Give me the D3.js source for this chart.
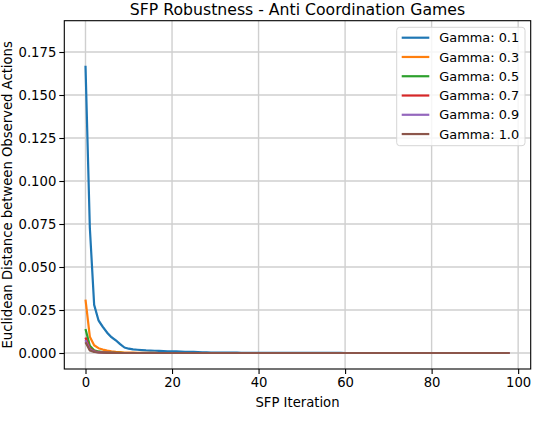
<!DOCTYPE html>
<html>
<head>
<meta charset="utf-8">
<script src="https://cdn.jsdelivr.net/npm/d3@7"></script>
<style>
  html, body { margin: 0; padding: 0; background: #fff; }
  svg { display: block; font-family: "DejaVu Sans", sans-serif; }
</style>
</head>
<body>
<svg id="chart" width="534" height="442"></svg>
<script>
// ---------------- data ----------------
const title = "SFP Robustness - Anti Coordination Games";
const xLabel = "SFP Iteration";
const yLabel = "Euclidean Distance between Observed Actions";
const seriesNames = ["Gamma: 0.1", "Gamma: 0.3", "Gamma: 0.5", "Gamma: 0.7", "Gamma: 0.9", "Gamma: 1.0"];
const seriesColors = ["#1f77b4", "#ff7f0e", "#2ca02c", "#d62728", "#9467bd", "#8c564b"];
const xTicks = [0, 20, 40, 60, 80, 100];
const yTicks = [0, 0.025, 0.05, 0.075, 0.1, 0.125, 0.15, 0.175];

const gamma01 = [
  0.167, 0.073, 0.028, 0.019, 0.0152, 0.0118, 0.0092, 0.0074, 0.0052, 0.0032,
  0.0025, 0.0021, 0.0019, 0.0017, 0.0015, 0.0014, 0.0013, 0.0012, 0.0011, 0.001,
  0.001, 0.0009, 0.0008, 0.0007, 0.0007, 0.0006, 0.0005, 0.0004, 0.0004, 0.0003,
  0.0003, 0.0002, 0.0002, 0.0002, 0.0002, 0.0002, 0.0001, 0.0001, 0.0001, 0.0001,
  0.0001, 0.0001, 0.0001, 0.0001, 0.0001, 0.0001, 0.0001, 0.0001, 0.0001, 0.0001,
  0.0001, 0.0001, 0.0001, 0.0001, 0.0001, 0.0001, 0.0001, 0.0001, 0.0001, 0.0001,
  0, 0, 0, 0, 0, 0, 0, 0, 0, 0,
  0, 0, 0, 0, 0, 0, 0, 0, 0, 0,
  0, 0, 0, 0, 0, 0, 0, 0, 0, 0,
  0, 0, 0, 0, 0, 0, 0, 0, 0
];
const gamma01Err = [
  0.0006, 0.0012, 0.0014, 0.0012, 0.0011, 0.001, 0.0009, 0.0008, 0.0007, 0.0005,
  0.0004, 0.0003, 0.0003, 0.0002, 0.0002, 0.0002, 0.0001, 0.0001, 0.0001, 0.0001
];
const gamma03 = [
  0.031, 0.0095, 0.0045, 0.0028, 0.002, 0.0014, 0.001, 0.0007, 0.0005, 0.0003,
  0.0002, 0.0002, 0.0001, 0.0001, 0.0001, 0.0001, 0.0001, 0, 0, 0,
  0, 0, 0, 0, 0, 0, 0, 0, 0, 0,
  0, 0, 0, 0, 0, 0, 0, 0, 0, 0,
  0, 0, 0, 0, 0, 0, 0, 0, 0, 0,
  0, 0, 0, 0, 0, 0, 0, 0, 0, 0,
  0, 0, 0, 0, 0, 0, 0, 0, 0, 0,
  0, 0, 0, 0, 0, 0, 0, 0, 0, 0,
  0, 0, 0, 0, 0, 0, 0, 0, 0, 0,
  0, 0, 0, 0, 0, 0, 0, 0, 0
];
const gamma05 = [
  0.014, 0.0042, 0.0016, 0.0009, 0.0005, 0.0003, 0.0002, 0.0001, 0.0001, 0,
  0, 0, 0, 0, 0, 0, 0, 0, 0, 0,
  0, 0, 0, 0, 0, 0, 0, 0, 0, 0,
  0, 0, 0, 0, 0, 0, 0, 0, 0, 0,
  0, 0, 0, 0, 0, 0, 0, 0, 0, 0,
  0, 0, 0, 0, 0, 0, 0, 0, 0, 0,
  0, 0, 0, 0, 0, 0, 0, 0, 0, 0,
  0, 0, 0, 0, 0, 0, 0, 0, 0, 0,
  0, 0, 0, 0, 0, 0, 0, 0, 0, 0,
  0, 0, 0, 0, 0, 0, 0, 0, 0
];
const gamma07 = [
  0.009, 0.0026, 0.001, 0.0005, 0.0003, 0.0002, 0.0001, 0.0001, 0, 0,
  0, 0, 0, 0, 0, 0, 0, 0, 0, 0,
  0, 0, 0, 0, 0, 0, 0, 0, 0, 0,
  0, 0, 0, 0, 0, 0, 0, 0, 0, 0,
  0, 0, 0, 0, 0, 0, 0, 0, 0, 0,
  0, 0, 0, 0, 0, 0, 0, 0, 0, 0,
  0, 0, 0, 0, 0, 0, 0, 0, 0, 0,
  0, 0, 0, 0, 0, 0, 0, 0, 0, 0,
  0, 0, 0, 0, 0, 0, 0, 0, 0, 0,
  0, 0, 0, 0, 0, 0, 0, 0, 0
];
const gamma09 = [
  0.0075, 0.002, 0.0008, 0.0004, 0.0002, 0.0001, 0.0001, 0, 0, 0,
  0, 0, 0, 0, 0, 0, 0, 0, 0, 0,
  0, 0, 0, 0, 0, 0, 0, 0, 0, 0,
  0, 0, 0, 0, 0, 0, 0, 0, 0, 0,
  0, 0, 0, 0, 0, 0, 0, 0, 0, 0,
  0, 0, 0, 0, 0, 0, 0, 0, 0, 0,
  0, 0, 0, 0, 0, 0, 0, 0, 0, 0,
  0, 0, 0, 0, 0, 0, 0, 0, 0, 0,
  0, 0, 0, 0, 0, 0, 0, 0, 0, 0,
  0, 0, 0, 0, 0, 0, 0, 0, 0
];
const gamma10 = [
  0.0062, 0.0015, 0.0006, 0.0003, 0.0002, 0.0001, 0, 0, 0, 0,
  0, 0, 0, 0, 0, 0, 0, 0, 0, 0,
  0, 0, 0, 0, 0, 0, 0, 0, 0, 0,
  0, 0, 0, 0, 0, 0, 0, 0, 0, 0,
  0, 0, 0, 0, 0, 0, 0, 0, 0, 0,
  0, 0, 0, 0, 0, 0, 0, 0, 0, 0,
  0, 0, 0, 0, 0, 0, 0, 0, 0, 0,
  0, 0, 0, 0, 0, 0, 0, 0, 0, 0,
  0, 0, 0, 0, 0, 0, 0, 0, 0, 0,
  0, 0, 0, 0, 0, 0, 0, 0, 0
];
const seriesValues = [gamma01, gamma03, gamma05, gamma07, gamma09, gamma10];

// ---------------- layout ----------------
const svg = d3.select("#chart");
const L = 64.3, R = 530.7, T = 20.7, B = 369;
const x = d3.scaleLinear().domain([-4.9, 102.9]).range([L, R]);
const y = d3.scaleLinear().domain([-0.0093, 0.1932]).range([B, T]);

// grid
const grid = svg.append("g");
grid.selectAll("line.gx").data(xTicks).join("line")
  .attr("x1", d => x(d)).attr("x2", d => x(d)).attr("y1", T).attr("y2", B)
  .attr("stroke", "#cfcfcf").attr("stroke-width", 1.4);
grid.selectAll("line.gy").data(yTicks).join("line")
  .attr("x1", L).attr("x2", R).attr("y1", d => y(d)).attr("y2", d => y(d))
  .attr("stroke", "#cfcfcf").attr("stroke-width", 1.4);

// clip
svg.append("clipPath").attr("id", "plotclip").append("rect")
  .attr("x", L).attr("y", T).attr("width", R - L).attr("height", B - T);
const plot = svg.append("g").attr("clip-path", "url(#plotclip)");

// blue CI band
const band = d3.area()
  .x((d, i) => x(i))
  .y0((d, i) => y(d - (gamma01Err[i] || 0)))
  .y1((d, i) => y(d + (gamma01Err[i] || 0)));
plot.append("path").datum(gamma01).attr("d", band)
  .attr("fill", seriesColors[0]).attr("fill-opacity", 0.25).attr("stroke", "none");

const line = d3.line().x((d, i) => x(i)).y(d => y(d));
seriesValues.forEach((vals, k) => {
  plot.append("path").datum(vals).attr("d", line)
    .attr("fill", "none").attr("stroke", seriesColors[k])
    .attr("stroke-width", 2.2).attr("stroke-linejoin", "round").attr("stroke-linecap", "butt");
});

// axes
const xAxis = d3.axisBottom(x).tickValues(xTicks).tickFormat(d3.format("d")).tickSize(5).tickPadding(4);
const yAxis = d3.axisLeft(y).tickValues(yTicks).tickFormat(d3.format(".3f")).tickSize(5).tickPadding(3);
const gx = svg.append("g").attr("transform", `translate(0,${B})`).call(xAxis);
const gy = svg.append("g").attr("transform", `translate(${L},0)`).call(yAxis);
[gx, gy].forEach(g => {
  g.select(".domain").remove();
  g.selectAll(".tick line").attr("stroke", "#000").attr("stroke-width", 1.1);
  g.selectAll(".tick text").attr("fill", "#000").style("font-size", "13.2px")
    .style("font-family", "'DejaVu Sans', sans-serif");
});

// frame
svg.append("rect").attr("x", L).attr("y", T).attr("width", R - L).attr("height", B - T)
  .attr("fill", "none").attr("stroke", "#000").attr("stroke-width", 1.1);

// labels
svg.append("text").attr("x", (L + R) / 2).attr("y", 14.5).attr("text-anchor", "middle")
  .style("font-size", "15.7px").text(title);
svg.append("text").attr("x", (L + R) / 2).attr("y", 406.5).attr("text-anchor", "middle")
  .style("font-size", "13.2px").text(xLabel);
svg.append("text").attr("transform", `translate(11.5,${(T + B) / 2}) rotate(-90)`)
  .attr("text-anchor", "middle").style("font-size", "13.2px").text(yLabel);

// legend
const lg = svg.append("g");
lg.append("rect").attr("x", 396.7).attr("y", 27.3).attr("width", 128.3).attr("height", 118.4)
  .attr("rx", 3).attr("fill", "#fff").attr("fill-opacity", 0.8)
  .attr("stroke", "#d6d6d6").attr("stroke-width", 1);
seriesNames.forEach((name, k) => {
  const yy = 37.7 + k * 19.27;
  lg.append("line").attr("x1", 401.7).attr("x2", 429.3).attr("y1", yy).attr("y2", yy)
    .attr("stroke", seriesColors[k]).attr("stroke-width", 2.2);
  lg.append("text").attr("x", 439.3).attr("y", yy + 4.7)
    .style("font-size", "12.9px").text(name);
});
</script>
</body>
</html>
